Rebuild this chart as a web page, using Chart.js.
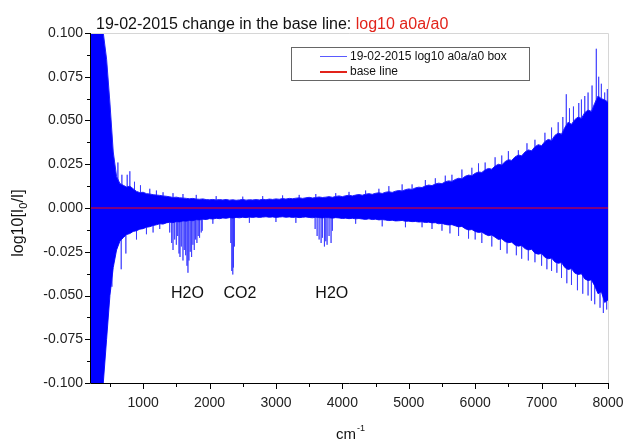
<!DOCTYPE html>
<html>
<head>
<meta charset="utf-8">
<script src="https://cdn.jsdelivr.net/npm/chart.js@4.4.0/dist/chart.umd.min.js"></script>
<style>
html, body { margin: 0; padding: 0; background: #fff; }
#wrap { width: 624px; height: 443px; }
</style>
</head>
<body>
<div id="wrap"><canvas id="spec" width="624" height="443"></canvas></div>
<script>
// envelope of the noisy spectrum, every 50 cm-1
const wavenumber = [
  200, 250, 300, 350, 400, 450, 500, 550, 600, 650,
  700, 750, 800, 850, 900, 950, 1000, 1050, 1100, 1150,
  1200, 1250, 1300, 1350, 1400, 1450, 1500, 1550, 1600, 1650,
  1700, 1750, 1800, 1850, 1900, 1950, 2000, 2050, 2100, 2150,
  2200, 2250, 2300, 2350, 2400, 2450, 2500, 2550, 2600, 2650,
  2700, 2750, 2800, 2850, 2900, 2950, 3000, 3050, 3100, 3150,
  3200, 3250, 3300, 3350, 3400, 3450, 3500, 3550, 3600, 3650,
  3700, 3750, 3800, 3850, 3900, 3950, 4000, 4050, 4100, 4150,
  4200, 4250, 4300, 4350, 4400, 4450, 4500, 4550, 4600, 4650,
  4700, 4750, 4800, 4850, 4900, 4950, 5000, 5050, 5100, 5150,
  5200, 5250, 5300, 5350, 5400, 5450, 5500, 5550, 5600, 5650,
  5700, 5750, 5800, 5850, 5900, 5950, 6000, 6050, 6100, 6150,
  6200, 6250, 6300, 6350, 6400, 6450, 6500, 6550, 6600, 6650,
  6700, 6750, 6800, 6850, 6900, 6950, 7000, 7050, 7100, 7150,
  7200, 7250, 7300, 7350, 7400, 7450, 7500, 7550, 7600, 7650,
  7700, 7750, 7800, 7850, 7900, 7950, 8000
];
const upperEdge = [
  0.100, 0.100, 0.100, 0.100, 0.100, 0.085, 0.060, 0.032, 0.018, 0.014,
  0.0130, 0.0120, 0.0125, 0.0110, 0.0095, 0.0088, 0.0090, 0.0082, 0.0080, 0.0076,
  0.0074, 0.0072, 0.0069, 0.0067, 0.0064, 0.0060, 0.0062, 0.0058, 0.0057, 0.0055,
  0.0053, 0.0055, 0.0051, 0.0050, 0.0052, 0.0048, 0.0047, 0.0049, 0.0046, 0.0048,
  0.0046, 0.0049, 0.0045, 0.0047, 0.0044, 0.0046, 0.0049, 0.0045, 0.0047, 0.0046,
  0.0048, 0.0046, 0.0050, 0.0047, 0.0051, 0.0049, 0.0052, 0.0050, 0.0054, 0.0051,
  0.0055, 0.0053, 0.0056, 0.0058, 0.0055, 0.0058, 0.0061, 0.0057, 0.0060, 0.0063,
  0.0060, 0.0062, 0.0065, 0.0061, 0.0066, 0.0069, 0.0065, 0.0070, 0.0073, 0.0069,
  0.0074, 0.0077, 0.0073, 0.0079, 0.0082, 0.0078, 0.0084, 0.0087, 0.0083, 0.0090,
  0.0093, 0.0089, 0.0096, 0.0100, 0.0097, 0.0105, 0.0109, 0.0106, 0.0115, 0.0119,
  0.0117, 0.0126, 0.0131, 0.0128, 0.0137, 0.0142, 0.0139, 0.0150, 0.0155, 0.0152,
  0.0163, 0.0170, 0.0167, 0.0181, 0.0188, 0.0185, 0.0198, 0.0206, 0.0203, 0.0218,
  0.0226, 0.0222, 0.0240, 0.0250, 0.0246, 0.0265, 0.0276, 0.0272, 0.0292, 0.0303,
  0.0298, 0.0320, 0.0332, 0.0327, 0.0350, 0.0362, 0.0356, 0.0380, 0.0392, 0.0386,
  0.0415, 0.0428, 0.0422, 0.0460, 0.0490, 0.0478, 0.0505, 0.0520, 0.0512, 0.0545,
  0.0560, 0.0552, 0.0598, 0.0640, 0.0625, 0.0618, 0.0605
];
const lowerEdge = [
  -0.100, -0.100, -0.100, -0.100, -0.100, -0.075, -0.050, -0.034, -0.024, -0.019,
  -0.0170, -0.0152, -0.0146, -0.0134, -0.0130, -0.0121, -0.0118, -0.0110, -0.0107, -0.0100,
  -0.0096, -0.0090, -0.0092, -0.0085, -0.0081, -0.0084, -0.0078, -0.0080, -0.0074, -0.0076,
  -0.0071, -0.0073, -0.0067, -0.0069, -0.0064, -0.0066, -0.0061, -0.0063, -0.0059, -0.0061,
  -0.0057, -0.0059, -0.0055, -0.0058, -0.0054, -0.0056, -0.0053, -0.0055, -0.0052, -0.0054,
  -0.0051, -0.0054, -0.0052, -0.0050, -0.0053, -0.0051, -0.0054, -0.0052, -0.0050, -0.0053,
  -0.0051, -0.0054, -0.0052, -0.0055, -0.0053, -0.0051, -0.0054, -0.0056, -0.0053, -0.0055,
  -0.0057, -0.0054, -0.0056, -0.0058, -0.0055, -0.0057, -0.0060, -0.0058, -0.0061, -0.0059,
  -0.0062, -0.0060, -0.0063, -0.0065, -0.0062, -0.0066, -0.0064, -0.0068, -0.0066, -0.0069,
  -0.0072, -0.0070, -0.0074, -0.0073, -0.0071, -0.0076, -0.0075, -0.0078, -0.0077, -0.0080,
  -0.0079, -0.0083, -0.0081, -0.0085, -0.0084, -0.0090, -0.0088, -0.0094, -0.0097, -0.0095,
  -0.0102, -0.0108, -0.0105, -0.0118, -0.0126, -0.0123, -0.0134, -0.0140, -0.0137, -0.0150,
  -0.0158, -0.0154, -0.0167, -0.0180, -0.0176, -0.0192, -0.0198, -0.0195, -0.0212, -0.0218,
  -0.0214, -0.0232, -0.0240, -0.0236, -0.0258, -0.0264, -0.0260, -0.0282, -0.0290, -0.0286,
  -0.0308, -0.0316, -0.0312, -0.0340, -0.0352, -0.0346, -0.0372, -0.0380, -0.0376, -0.0405,
  -0.0415, -0.0410, -0.0445, -0.0490, -0.0478, -0.0540, -0.0525
];

// single noise spikes sticking out of the band
const peakX = [620, 680, 760, 800, 870, 960, 1100, 1200, 1300, 1450, 1600, 1800, 2100, 2500, 2800,
  3100, 3350, 3600, 3900, 4100, 4350, 4550, 4700, 4900, 5050, 5250, 5400, 5550, 5650, 5800,
  5950, 6050, 6150, 6300, 6400, 6500, 6650, 6780, 6900, 7050, 7150, 7250, 7320, 7372, 7420,
  7480, 7560, 7600, 7650, 7700, 7760, 7824, 7860, 7900, 7950, 7990];
const peakY = [0.026, 0.019, 0.019, 0.021, 0.015, 0.013, 0.011, 0.010, 0.009, 0.0085, 0.008, 0.0075, 0.0068, 0.0065, 0.0068,
  0.0072, 0.0075, 0.0080, 0.0085, 0.0092, 0.010, 0.011, 0.0125, 0.0135, 0.0135, 0.016, 0.017, 0.0185, 0.019, 0.022,
  0.023, 0.0255, 0.026, 0.029, 0.030, 0.0325, 0.033, 0.037, 0.039, 0.043, 0.046, 0.049, 0.052, 0.065, 0.057,
  0.058, 0.060, 0.062, 0.064, 0.066, 0.070, 0.091, 0.075, 0.071, 0.066, 0.068];
const troughX = [530, 670, 740, 900, 1050, 1150, 1250, 2050, 2600, 3000, 3300, 4200, 4600, 4950, 5200,
  5350, 5500, 5620, 5750, 5900, 6000, 6100, 6250, 6380, 6480, 6620, 6700, 6800, 6900, 7000,
  7080, 7150, 7230, 7300, 7380, 7450, 7540, 7620, 7700, 7750, 7800, 7880, 7930, 7980];
const troughY = [-0.045, -0.035, -0.026, -0.018, -0.015, -0.014, -0.012, -0.009, -0.0085, -0.008, -0.0085, -0.009, -0.0105, -0.011, -0.011,
  -0.012, -0.013, -0.0145, -0.016, -0.0175, -0.018, -0.020, -0.022, -0.024, -0.026, -0.027, -0.029, -0.030, -0.031, -0.033,
  -0.035, -0.036, -0.037, -0.040, -0.043, -0.044, -0.047, -0.049, -0.050, -0.053, -0.055, -0.057, -0.060, -0.058];

// absorption lines: H2O, CO2, H2O
const lineX = [1400, 1430, 1450, 1475, 1500, 1520, 1540, 1555, 1575, 1600, 1620, 1640, 1660, 1675, 1690,
  1710, 1730, 1750, 1770, 1790, 1810, 1830, 1850, 1875, 1890,
  2320, 2335, 2350, 2360, 2375,
  3590, 3620, 3650, 3680, 3700, 3730, 3750, 3770, 3800, 3830, 3850];
const lineY = [-0.014, -0.020, -0.024, -0.018, -0.021, -0.016, -0.026, -0.028, -0.022, -0.030, -0.024, -0.027, -0.033, -0.037, -0.030,
  -0.025, -0.028, -0.021, -0.024, -0.018, -0.020, -0.016, -0.017, -0.014, -0.013,
  -0.020, -0.036, -0.038, -0.034, -0.022,
  -0.012, -0.016, -0.018, -0.020, -0.017, -0.022, -0.019, -0.021, -0.016, -0.020, -0.013];

const baseX = [200, 8000];
const baseY = [0, 0];

const noteText = ['H2O', 'CO2', 'H2O'];
const noteX = [1667, 2457, 3841];
const noteY = [-0.049, -0.049, -0.049];

const xTicks = [1000, 2000, 3000, 4000, 5000, 6000, 7000, 8000];
const xMinorTicks = [500, 1500, 2500, 3500, 4500, 5500, 6500, 7500];
const yTicks = [-0.1, -0.075, -0.05, -0.025, 0, 0.025, 0.05, 0.075, 0.1];
const yMinorTicks = [-0.0875, -0.0625, -0.0375, -0.0125, 0.0125, 0.0375, 0.0625, 0.0875];

const seriesLabel = '19-02-2015 log10 a0a/a0 box';
const baseLabel = 'base line';
const titleBlack = '19-02-2015 change in the base line: ';
const titleRed = 'log10 a0a/a0';

const FONT = "'Liberation Sans', Arial, sans-serif";

const spikePts = [];
function addSpikes(xs, ys) {
  xs.forEach((x, i) => {
    spikePts.push({ x: x, y: 0 }, { x: x, y: ys[i] }, { x: x, y: 0 });
  });
}
addSpikes(peakX, peakY);
addSpikes(troughX, troughY);
addSpikes(lineX, lineY);

const decorations = {
  id: 'decorations',
  afterDraw(chart) {
    const { ctx, chartArea: a } = chart;
    const xs = chart.scales.x, ys = chart.scales.y;
    ctx.save();

    // frame: light top/right, black axes
    ctx.lineWidth = 1;
    ctx.strokeStyle = '#d6d6d6';
    ctx.beginPath();
    ctx.moveTo(a.left, a.top + 0.5);
    ctx.lineTo(a.right + 0.5, a.top + 0.5);
    ctx.lineTo(a.right + 0.5, a.bottom);
    ctx.stroke();

    ctx.strokeStyle = '#000';
    ctx.beginPath();
    ctx.moveTo(a.left + 0.5, a.top);
    ctx.lineTo(a.left + 0.5, a.bottom + 0.5);
    ctx.lineTo(a.right + 1, a.bottom + 0.5);
    yTicks.forEach(v => {
      const py = Math.round(ys.getPixelForValue(v)) + 0.5;
      ctx.moveTo(a.left - 5, py); ctx.lineTo(a.left, py);
    });
    yMinorTicks.forEach(v => {
      const py = Math.round(ys.getPixelForValue(v)) + 0.5;
      ctx.moveTo(a.left - 3, py); ctx.lineTo(a.left, py);
    });
    xTicks.forEach(v => {
      const px = Math.round(xs.getPixelForValue(v)) + 0.5;
      ctx.moveTo(px, a.bottom); ctx.lineTo(px, a.bottom + 6);
    });
    xMinorTicks.forEach(v => {
      const px = Math.round(xs.getPixelForValue(v)) + 0.5;
      ctx.moveTo(px, a.bottom); ctx.lineTo(px, a.bottom + 4);
    });
    ctx.stroke();

    // title
    ctx.textBaseline = 'alphabetic';
    ctx.textAlign = 'left';
    ctx.font = '16px ' + FONT;
    ctx.fillStyle = '#111';
    ctx.fillText(titleBlack, 96, 29);
    const w = ctx.measureText(titleBlack).width;
    ctx.fillStyle = '#e2231a';
    ctx.fillText(titleRed, 96 + w, 29);

    // band annotations
    ctx.fillStyle = '#111';
    ctx.textAlign = 'center';
    ctx.textBaseline = 'middle';
    noteText.forEach((t, i) => {
      ctx.fillText(t, xs.getPixelForValue(noteX[i]), ys.getPixelForValue(noteY[i]));
    });

    // x axis title cm^-1
    ctx.textAlign = 'left';
    ctx.textBaseline = 'alphabetic';
    ctx.font = '15px ' + FONT;
    ctx.fillText('cm', 336, 439);
    const cw = ctx.measureText('cm').width;
    ctx.font = '9px ' + FONT;
    ctx.fillText('-1', 336 + cw + 1, 431);

    // y axis title log10[I0/I]
    ctx.translate(23, 223);
    ctx.rotate(-Math.PI / 2);
    const p1 = 'log10[I', p2 = '0', p3 = '/I]';
    ctx.font = '16px ' + FONT;
    const w1 = ctx.measureText(p1).width, w3 = ctx.measureText(p3).width;
    ctx.font = '11px ' + FONT;
    const w2 = ctx.measureText(p2).width;
    const x0 = -(w1 + w2 + w3) / 2;
    ctx.font = '16px ' + FONT;
    ctx.fillText(p1, x0, 0);
    ctx.font = '11px ' + FONT;
    ctx.fillText(p2, x0 + w1, 4);
    ctx.font = '16px ' + FONT;
    ctx.fillText(p3, x0 + w1 + w2, 0);
    ctx.restore();

    // legend box
    ctx.save();
    ctx.fillStyle = '#fff';
    ctx.fillRect(291, 47, 238, 33);
    ctx.strokeStyle = '#666';
    ctx.lineWidth = 1;
    ctx.strokeRect(291.5, 47.5, 238, 33);
    ctx.strokeStyle = '#5a5aff';
    ctx.beginPath(); ctx.moveTo(320, 56.5); ctx.lineTo(347, 56.5); ctx.stroke();
    ctx.lineWidth = 2;
    ctx.strokeStyle = '#e2231a';
    ctx.beginPath(); ctx.moveTo(320, 72); ctx.lineTo(347, 72); ctx.stroke();
    ctx.fillStyle = '#111';
    ctx.font = '12px ' + FONT;
    ctx.textBaseline = 'middle';
    ctx.textAlign = 'left';
    ctx.fillText(seriesLabel, 350, 57);
    ctx.fillText(baseLabel, 350, 72);
    ctx.restore();
  }
};

new Chart(document.getElementById('spec'), {
  type: 'line',
  data: {
    datasets: [
      {
        label: seriesLabel,
        data: wavenumber.map((x, i) => ({ x: x, y: upperEdge[i] })),
        borderColor: '#2020ff',
        borderWidth: 1,
        backgroundColor: '#0000ff',
        fill: '+1',
        pointRadius: 0,
        order: 1
      },
      {
        label: 'lower edge',
        data: wavenumber.map((x, i) => ({ x: x, y: lowerEdge[i] })),
        borderColor: '#2020ff',
        borderWidth: 1,
        fill: false,
        pointRadius: 0,
        order: 1
      },
      {
        label: 'spikes',
        data: spikePts,
        borderColor: 'rgba(45,45,255,0.75)',
        borderWidth: 1,
        fill: false,
        pointRadius: 0,
        order: 3
      },
      {
        label: baseLabel,
        data: baseX.map((x, i) => ({ x: x, y: baseY[i] })),
        borderColor: '#ff0000',
        borderWidth: 1,
        fill: false,
        pointRadius: 0,
        order: 0
      }
    ]
  },
  options: {
    responsive: false,
    animation: false,
    devicePixelRatio: 1,
    layout: { padding: { top: 33, right: 16, left: 0, bottom: 0 } },
    plugins: {
      legend: { display: false },
      tooltip: { enabled: false }
    },
    scales: {
      x: {
        type: 'linear',
        min: 200,
        max: 8000,
        grid: { display: false, drawTicks: false },
        border: { display: false },
        ticks: {
          color: '#222',
          font: { family: FONT, size: 14 },
          padding: 12,
          maxRotation: 0,
          callback: v => String(v)
        },
        afterBuildTicks: s => { s.ticks = xTicks.map(v => ({ value: v })); },
        afterFit: s => { s.height = 60; s.paddingLeft = 0; s.paddingRight = 0; }
      },
      y: {
        type: 'linear',
        min: -0.1,
        max: 0.1,
        grid: { display: false, drawTicks: false },
        border: { display: false },
        ticks: {
          color: '#222',
          font: { family: FONT, size: 14 },
          padding: 7,
          callback: v => v.toFixed(3)
        },
        afterBuildTicks: s => { s.ticks = yTicks.map(v => ({ value: v })); },
        afterFit: s => { s.width = 90; s.paddingTop = 0; s.paddingBottom = 0; }
      }
    }
  },
  plugins: [decorations]
});
</script>
</body>
</html>
